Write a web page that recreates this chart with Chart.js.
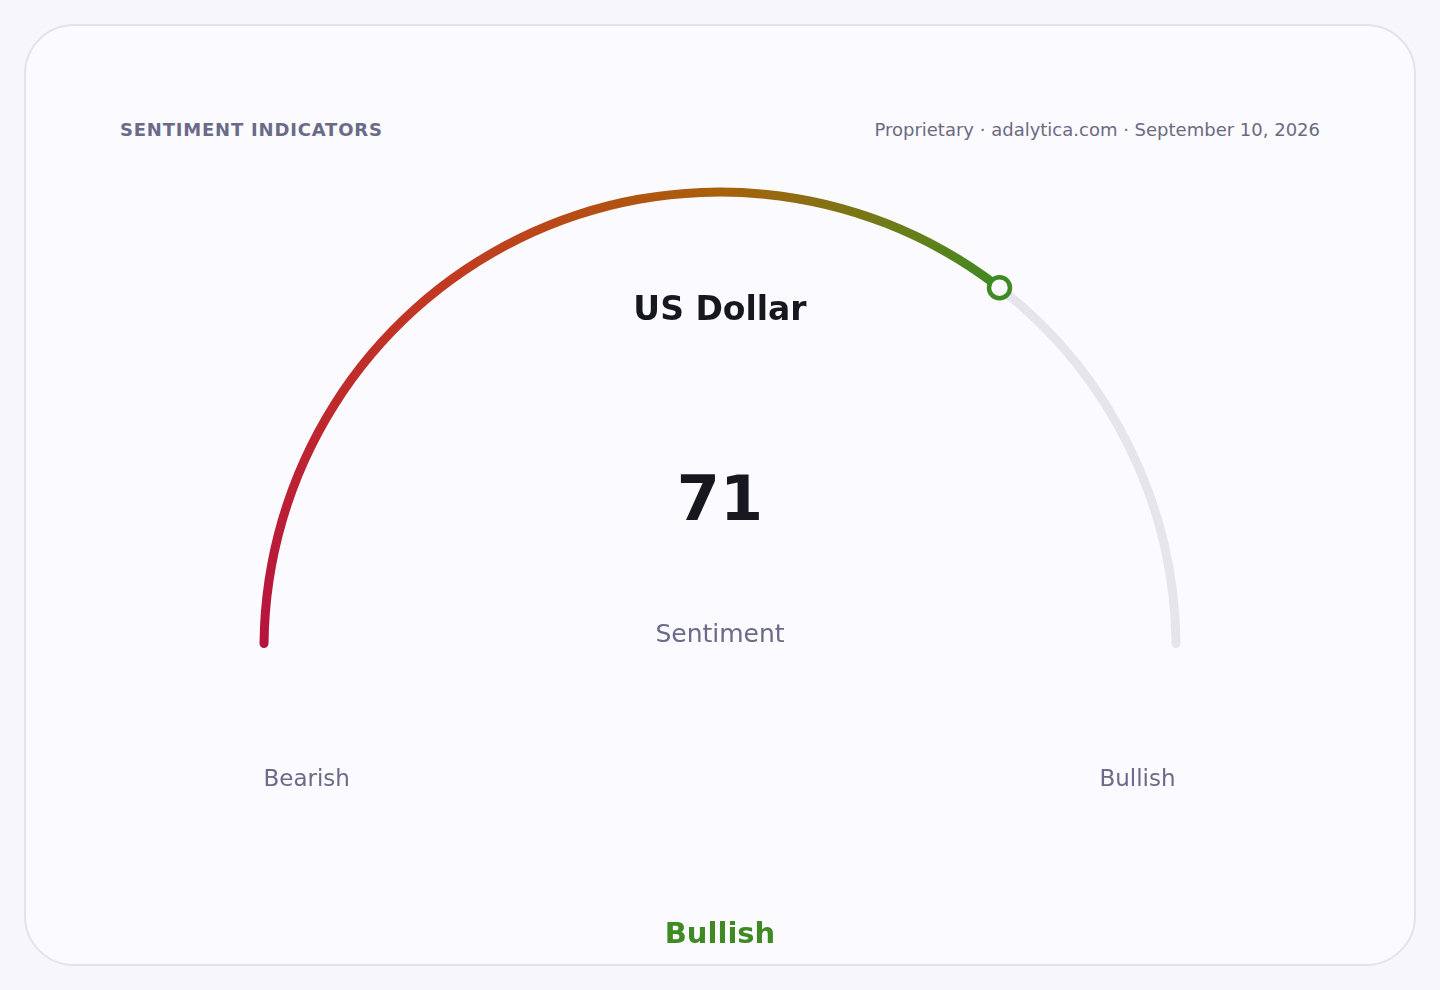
<!DOCTYPE html>
<html>
<head>
<meta charset="utf-8">
<title>US Dollar sentiment</title>
<script src="https://cdn.jsdelivr.net/npm/chart.js@4.4.1/dist/chart.umd.min.js"></script>
<style>
  html, body { margin: 0; padding: 0; background: #f6f6fb; font-family: "DejaVu Sans", sans-serif; }
  .card {
    position: absolute; left: 24px; top: 24px; width: 1388px; height: 938px;
    border: 2px solid #e3e2ee; border-radius: 50px; background: #fafaff;
  }
  .title {
    position: absolute; left: 120px; top: 119px; font-size: 18px; font-weight: bold;
    color: #6b6a88; letter-spacing: 0.8px;
  }
  .source {
    position: absolute; right: 120px; top: 119px; font-size: 18px; color: #6b6a80;
  }
  #gauge { position: absolute; left: 0; top: 0; }
</style>
</head>
<body>
<div class="card"></div>
<div class="title">SENTIMENT INDICATORS</div>
<div class="source">Proprietary · adalytica.com · September 10, 2026</div>
<canvas id="gauge" width="1440" height="990"></canvas>
<script>
// data
const assetName = ['US Dollar'];
const gaugeValue = [71];
const gaugeMax = [100];
const endLabels = ['Bearish', 'Bullish'];
const verdict = ['Bullish'];
const metricLabel = ['Sentiment'];

const segments = [gaugeValue[0], gaugeMax[0] - gaugeValue[0]];

// colour ramp along the filled arc, keyed by gauge value
const ramp = [[0, '#b7123f'], [30, '#c23a20'], [50, '#a9600b'], [62, '#6f7b19'], [71, '#3f8a22']];

const GREEN = '#3f8a22';
const TRACK = '#e6e5eb';

function arcColor(ctx) {
  if (ctx.dataIndex !== 0) return TRACK;
  const chart = ctx.chart;
  const a = chart.chartArea;
  if (!a) return GREEN;
  const cx = (a.left + a.right) / 2;
  const cy = a.bottom;
  const g = chart.ctx.createConicGradient(Math.PI, cx, cy);
  ramp.forEach(([v, c]) => g.addColorStop(v / gaugeMax[0] * 0.5, c));
  g.addColorStop(1, GREEN);
  return g;
}

const gaugeText = {
  id: 'gaugeText',
  afterDraw(chart) {
    const { ctx } = chart;
    const arc = chart.getDatasetMeta(0).data[0];
    const cx = arc.x, cy = arc.y;
    const rMid = (arc.innerRadius + arc.outerRadius) / 2;

    // value marker at the end of the filled arc
    const mx = cx + rMid * Math.cos(arc.endAngle);
    const my = cy + rMid * Math.sin(arc.endAngle);
    ctx.save();
    ctx.beginPath();
    ctx.arc(mx, my, 10.5, 0, Math.PI * 2);
    ctx.fillStyle = '#fafaff';
    ctx.fill();
    ctx.lineWidth = 4.5;
    ctx.strokeStyle = GREEN;
    ctx.stroke();

    ctx.textAlign = 'center';
    ctx.textBaseline = 'alphabetic';
    ctx.fillStyle = '#17171f';
    ctx.font = 'bold 33px "DejaVu Sans"';
    ctx.fillText(assetName[0], cx, 320);
    ctx.font = 'bold 62px "DejaVu Sans"';
    ctx.fillText(String(gaugeValue[0]), cx, 520);

    ctx.fillStyle = '#6b6a88';
    ctx.font = '25px "DejaVu Sans"';
    ctx.fillText(metricLabel[0], cx, 642);

    ctx.font = '23px "DejaVu Sans"';
    ctx.textAlign = 'left';
    ctx.fillText(endLabels[0], cx - arc.outerRadius + 4, 786);
    ctx.textAlign = 'right';
    ctx.fillText(endLabels[1], cx + arc.outerRadius - 5, 786);

    ctx.textAlign = 'center';
    ctx.fillStyle = GREEN;
    ctx.font = 'bold 29px "DejaVu Sans"';
    ctx.fillText(verdict[0], cx, 943);
    ctx.restore();
  }
};

new Chart(document.getElementById('gauge'), {
  type: 'doughnut',
  data: {
    labels: [metricLabel[0], ''],
    datasets: [{
      data: segments,
      backgroundColor: arcColor,
      borderWidth: 0,
      borderRadius: 4.5,
      hoverOffset: 0
    }]
  },
  options: {
    responsive: false,
    animation: false,
    rotation: -90,
    circumference: 180,
    cutout: (451.5 / 460.5 * 100) + '%',
    layout: { padding: { left: 259.5, right: 259.5, top: 187.5, bottom: 342 } },
    plugins: { legend: { display: false }, tooltip: { enabled: false } },
    events: []
  },
  plugins: [gaugeText]
});
</script>
</body>
</html>
